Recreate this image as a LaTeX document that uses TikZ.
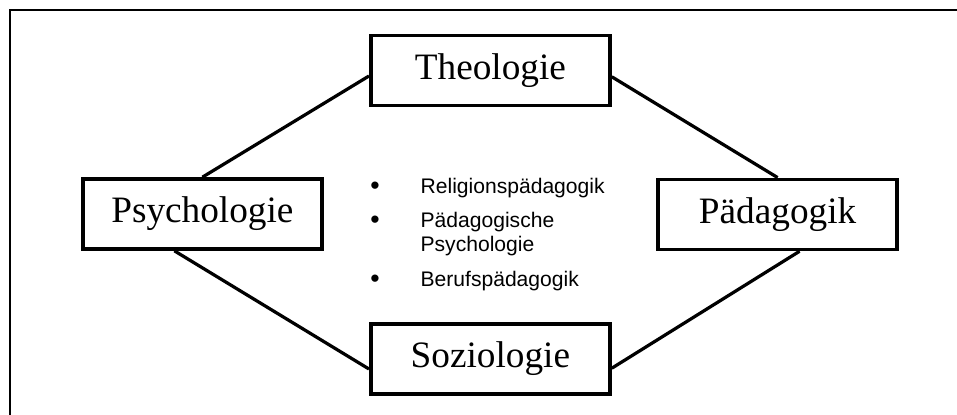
\documentclass[tikz,border=0pt]{standalone}
\usepackage{fontspec}
\setmainfont{Liberation Serif}
\setsansfont{Liberation Sans}
\begin{document}
\begin{tikzpicture}[line width=2.3pt]
\clip (0,0) rectangle (23.925,10.35);
\draw[line width=1.4pt] (0.25,-1) rectangle (25,10.1);
\tikzstyle{every node} = [draw, line width=2.6pt, minimum width=5.98cm, minimum height=1.75cm, font=\fontsize{26.5}{31}\selectfont]
\node (1) at (12.26,8.59) {Theologie};
\node (2) at (5.06,5.0) {Psychologie};
\node (3) at (19.44,4.99) {Pädagogik};
\node (4) at (12.26,1.375) {Soziologie};
\tikzstyle{every node} = [inner sep=0, font=\sffamily\fontsize{15}{18}\selectfont]
\node[anchor=base, font=\sffamily\fontsize{19}{20}\selectfont] (5) at (9.375,5.5) {\textbullet};
\node[anchor=base, font=\sffamily\fontsize{19}{20}\selectfont] (6) at (9.375,4.65) {\textbullet};
\node[anchor=base, font=\sffamily\fontsize{19}{20}\selectfont] (7) at (9.375,3.175) {\textbullet};
\node[anchor=base west] (8) at (10.475,5.525) {Religionspädagogik};
\node[anchor=base west] (9) at (10.475,4.675) {Pädagogische};
\node[anchor=base west] (10) at (10.475,4.075) {Psychologie};
\node[anchor=base west] (11) at (10.475,3.2) {Berufspädagogik};
\draw ([yshift=-0.14cm]1.west) -- (2.north);
\draw ([yshift=-0.16cm]1.east) -- (3.north);
\draw ([xshift=-0.7cm]2.south) -- ([yshift=-0.25cm]4.west);
\draw ([xshift=0.55cm]3.south) -- ([yshift=-0.23cm]4.east);
\end{tikzpicture}
\end{document}
